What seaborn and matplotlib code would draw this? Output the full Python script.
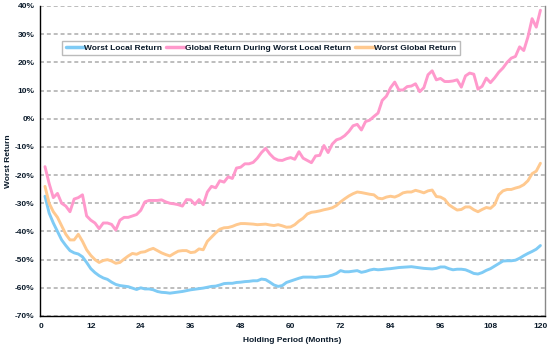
import matplotlib
matplotlib.use("Agg")
import matplotlib.pyplot as plt
import seaborn as sns
import pandas as pd
import numpy as np

months = list(range(1, 121))

worst_local = [
    -27.5, -33.5, -37.0, -40.0, -43.0, -45.0, -46.8, -47.6, -48.0, -49.0,
    -51.0, -53.2, -54.6, -55.7, -56.5, -57.0, -58.0, -58.8, -59.2, -59.4,
    -59.6, -60.1, -60.6, -60.0, -60.4, -60.4, -60.7, -61.3, -61.6, -61.7,
    -61.9, -61.7, -61.5, -61.3, -61.0, -60.7, -60.5, -60.3, -60.1, -59.8,
    -59.5, -59.4, -59.0, -58.5, -58.4, -58.4, -58.1, -58.0, -57.8, -57.7,
    -57.5, -57.5, -56.9, -57.1, -58.0, -59.0, -59.5, -59.2, -58.1, -57.6,
    -57.1, -56.6, -56.2, -56.2, -56.2, -56.3, -56.1, -56.0, -55.9, -55.5,
    -54.9, -53.9, -54.3, -54.3, -54.1, -53.9, -54.5, -54.2, -53.7, -53.4,
    -53.6, -53.5, -53.3, -53.2, -53.0, -52.8, -52.7, -52.6, -52.5, -52.7,
    -52.9, -53.1, -53.2, -53.3, -53.1, -52.6, -52.6, -53.2, -53.6, -53.4,
    -53.4, -53.6, -54.2, -54.9, -55.1, -54.6, -53.8, -53.2, -52.3, -51.4,
    -50.5, -50.4, -50.4, -50.2, -49.5, -48.6, -47.8, -47.1, -46.3, -45.0,
]

global_during_local = [
    -17.0, -23.0, -28.0, -26.5, -30.0, -31.0, -33.0, -28.5, -28.0, -27.0,
    -34.5, -36.0, -37.0, -39.0, -37.0, -37.0, -37.5, -39.5, -36.0, -35.0,
    -35.0, -34.5, -34.0, -32.5, -29.5, -29.0, -29.0, -29.0, -28.8, -29.5,
    -30.0, -30.2, -30.5, -31.0, -28.7, -28.8, -30.4, -28.7, -30.5, -26.0,
    -24.0, -24.5, -22.0, -22.5, -20.6, -21.2, -17.5, -17.2, -16.0, -16.0,
    -15.5, -14.0, -12.0, -10.5, -12.5, -14.0, -14.7, -14.8, -14.2, -13.8,
    -14.4, -11.7, -14.0, -14.8, -15.6, -13.2, -13.0, -9.5, -12.0, -9.0,
    -7.5, -7.0, -6.0, -4.5, -2.5, -2.0, -4.0, -1.0, -0.5, 0.8,
    2.0, 6.5, 8.0, 11.0, 13.0, 10.2, 10.2, 11.4, 11.6, 12.4,
    9.6, 11.0, 15.6, 17.0, 13.8, 14.3, 13.2, 13.2, 13.4, 13.8,
    11.2, 15.2, 16.2, 15.8, 10.5, 11.5, 14.4, 12.8, 14.5, 16.5,
    18.0, 20.0, 21.5, 22.1, 25.5, 24.2, 29.0, 35.5, 32.5, 38.5,
]

worst_global = [
    -24.0, -30.0, -33.0, -35.0, -38.0, -41.0, -43.0, -43.0, -41.0, -43.5,
    -46.5, -48.5, -50.0, -51.0, -50.3, -50.0, -50.5, -51.3, -51.0, -49.8,
    -48.7, -47.8, -48.1, -47.4, -47.2, -46.5, -46.0, -46.8, -47.6, -48.2,
    -48.7, -47.8, -47.0, -46.8, -46.8, -47.5, -47.3, -46.2, -46.5, -43.5,
    -42.0, -40.5, -39.2, -38.7, -38.6, -38.2, -37.6, -37.2, -37.2, -37.3,
    -37.4, -37.6, -37.5, -37.4, -37.7, -37.9, -37.6, -38.0, -38.5, -38.4,
    -37.6, -36.3, -35.3, -33.8, -33.2, -33.0, -32.7, -32.3, -32.0, -31.6,
    -30.8, -29.5, -28.4, -27.4, -26.6, -26.0, -26.2, -26.5, -26.8, -27.0,
    -28.2, -28.4, -27.8, -27.5, -27.8, -27.2, -26.3, -26.0, -26.0, -25.4,
    -25.8, -26.3, -25.6, -25.3, -27.6, -27.8, -28.6, -30.5, -31.5, -32.4,
    -32.2, -31.3, -31.3, -32.3, -33.0, -32.2, -31.5, -31.8, -30.5, -27.0,
    -25.6, -25.1, -25.1, -24.6, -24.2, -23.4, -22.0, -19.5, -18.6, -15.8,
]

series_names = ["Worst Local Return", "Global Return During Worst Local Return", "Worst Global Return"]
series_colors = ["#7fcbf5", "#ff99cc", "#ffc98f"]
x_ticks = [0, 12, 24, 36, 48, 60, 72, 84, 96, 108, 120]
y_ticks = [40, 30, 20, 10, 0, -10, -20, -30, -40, -50, -60, -70]

df = pd.concat([
    pd.DataFrame({"Month": months, "Value": worst_local, "Series": series_names[0]}),
    pd.DataFrame({"Month": months, "Value": global_during_local, "Series": series_names[1]}),
    pd.DataFrame({"Month": months, "Value": worst_global, "Series": series_names[2]}),
], ignore_index=True)

sns.set_theme(style="white")
plt.rcParams["font.family"] = ["Liberation Sans", "DejaVu Sans"]

FS = 6.0
TXT = "#0a1a2a"

fig = plt.figure(figsize=(5.5, 3.48), dpi=100)
ax = fig.add_axes([40 / 550, 1 - 316 / 348, 505 / 550, 310 / 348])

for y in y_ticks:
    ax.axhline(y, color="#b8b8b8", lw=1.3, ls=(0, (2.2, 1.6)), zorder=0)

sns.lineplot(data=df, x="Month", y="Value", hue="Series", hue_order=series_names,
             palette=series_colors, linewidth=2.1, ax=ax, legend=True)

ax.set_xlim(-0.2, 121.1)
ax.set_ylim(-70, 40)
ax.set_xticks(x_ticks)
ax.set_yticks(y_ticks)
ax.set_xticklabels([str(t) for t in x_ticks], fontsize=FS, fontweight="bold", color=TXT)
ax.set_yticklabels([f"{t}%" for t in y_ticks], fontsize=FS, fontweight="bold", color=TXT)
ax.tick_params(axis="both", direction="out", length=3, width=0.8, color="black", pad=2)
ax.tick_params(axis="y", length=0, pad=4)

ax.set_xlabel("Holding Period (Months)", fontsize=FS, fontweight="bold", color=TXT, labelpad=5)
ax.set_ylabel("Worst Return", fontsize=FS, fontweight="bold", color=TXT, labelpad=2)

for side in ["left", "bottom"]:
    ax.spines[side].set_color("black")
    ax.spines[side].set_linewidth(1.0)
ax.spines["right"].set_color("#888888")
ax.spines["right"].set_linewidth(1.0)
ax.spines["top"].set_visible(False)

leg = ax.legend(loc="center", bbox_to_anchor=(0.4376, 0.8645), ncol=3,
                frameon=True, fancybox=False, handlelength=2.2,
                handletextpad=0.05, columnspacing=0.5, borderpad=0.4,
                borderaxespad=0.0,
                prop={"weight": "bold", "size": FS})
leg.get_frame().set_edgecolor("#aaaaaa")
leg.get_frame().set_linewidth(1.0)
for line in leg.get_lines():
    line.set_linewidth(2.5)
for txt in leg.get_texts():
    txt.set_color(TXT)

fig.savefig("out.png", dpi=100)
